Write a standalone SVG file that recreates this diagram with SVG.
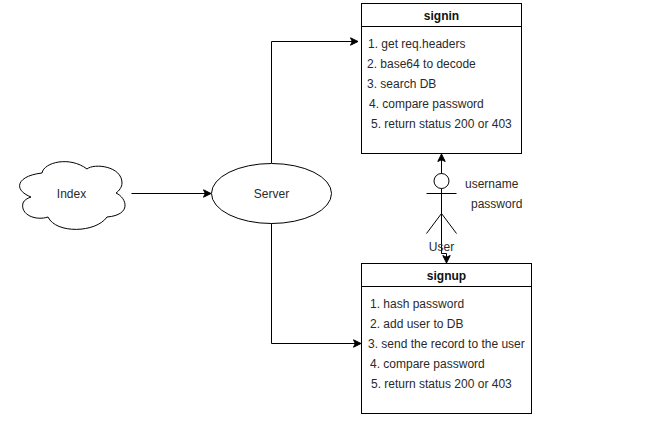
<svg xmlns="http://www.w3.org/2000/svg" width="664" height="443" viewBox="0 0 664 443">
<defs>
<style>
text{font-family:"Liberation Sans",Arial,sans-serif;font-size:12px;fill:#2a2a2a}
.b{font-weight:bold;text-anchor:middle;fill:#111}
.m{text-anchor:middle}
.s{fill:#fff;stroke:#000;stroke-width:1}
.l{fill:none;stroke:#000;stroke-width:1}
</style>
<marker id="a" markerUnits="userSpaceOnUse" markerWidth="9" markerHeight="9" refX="8" refY="4.5" orient="auto"><path d="M0.500 0.800L8 4.500L0.500 8.200L2.300 4.500Z" fill="#000" stroke="#000" stroke-width="1"/></marker>
</defs>
<rect width="664" height="443" fill="#fff"/>
<g id="connectors" class="l">
<path class="l" d="M131.500 193.500H211" marker-end="url(#a)"/>
<path class="l" d="M271.500 163V41.500H358" marker-end="url(#a)"/>
<path class="l" d="M271.500 223V343.500H361" marker-end="url(#a)"/>
<path class="l" d="M441.500 174V154" marker-end="url(#a)"/>
<path class="l" d="M441.500 224V253.500H446.500V263" marker-end="url(#a)"/>
</g>
<g id="index">
<path class="s" d="M42 173C44 162 70 156 87 169C94 163 122 166 122 183C122 187 119 191 116 193C127 198 132 215 107 217C96 233 56 234 48 217C36 221 20 215 23 203C24 200 28 198 31 197C13 190 16 176 42 173Z"/>
<text class="m" x="71.500" y="198">Index</text>
</g>
<g id="server">
<ellipse class="s" cx="271.500" cy="193.500" rx="60" ry="30"/>
<text class="m" x="271.500" y="198">Server</text>
</g>
<g id="signin">
<rect class="s" x="361.500" y="3.500" width="160" height="150"/>
<path class="l" d="M361.500 26.500H521.500"/>
<text class="b" x="441.500" y="20">signin</text>
<text x="368" y="48">1. get req.headers</text>
<text x="367" y="68">2. base64 to decode</text>
<text x="367" y="88">3. search DB</text>
<text x="369" y="108">4. compare password</text>
<text x="371" y="128">5. return status 200 or 403</text>
</g>
<g id="user">
<circle class="s" cx="441.500" cy="181" r="7.500"/>
<path class="l" d="M441.500 188.500V224M426.500 193.500H456.500M441.500 213.500L426.500 233.500M441.500 213.500L456.500 233.500"/>
<text class="m" x="441.500" y="251">User</text>
<text x="465" y="188">username</text>
<text x="471" y="208">password</text>
</g>
<g id="signup">
<rect class="s" x="361.500" y="263.500" width="170" height="150"/>
<path class="l" d="M361.500 286.500H531.500"/>
<text class="b" x="446.500" y="280">signup</text>
<text x="370" y="308">1. hash password</text>
<text x="370" y="328">2. add user to DB</text>
<text x="368" y="348">3. send the record to the user</text>
<text x="370" y="368">4. compare password</text>
<text x="371" y="388">5. return status 200 or 403</text>
</g>
</svg>
